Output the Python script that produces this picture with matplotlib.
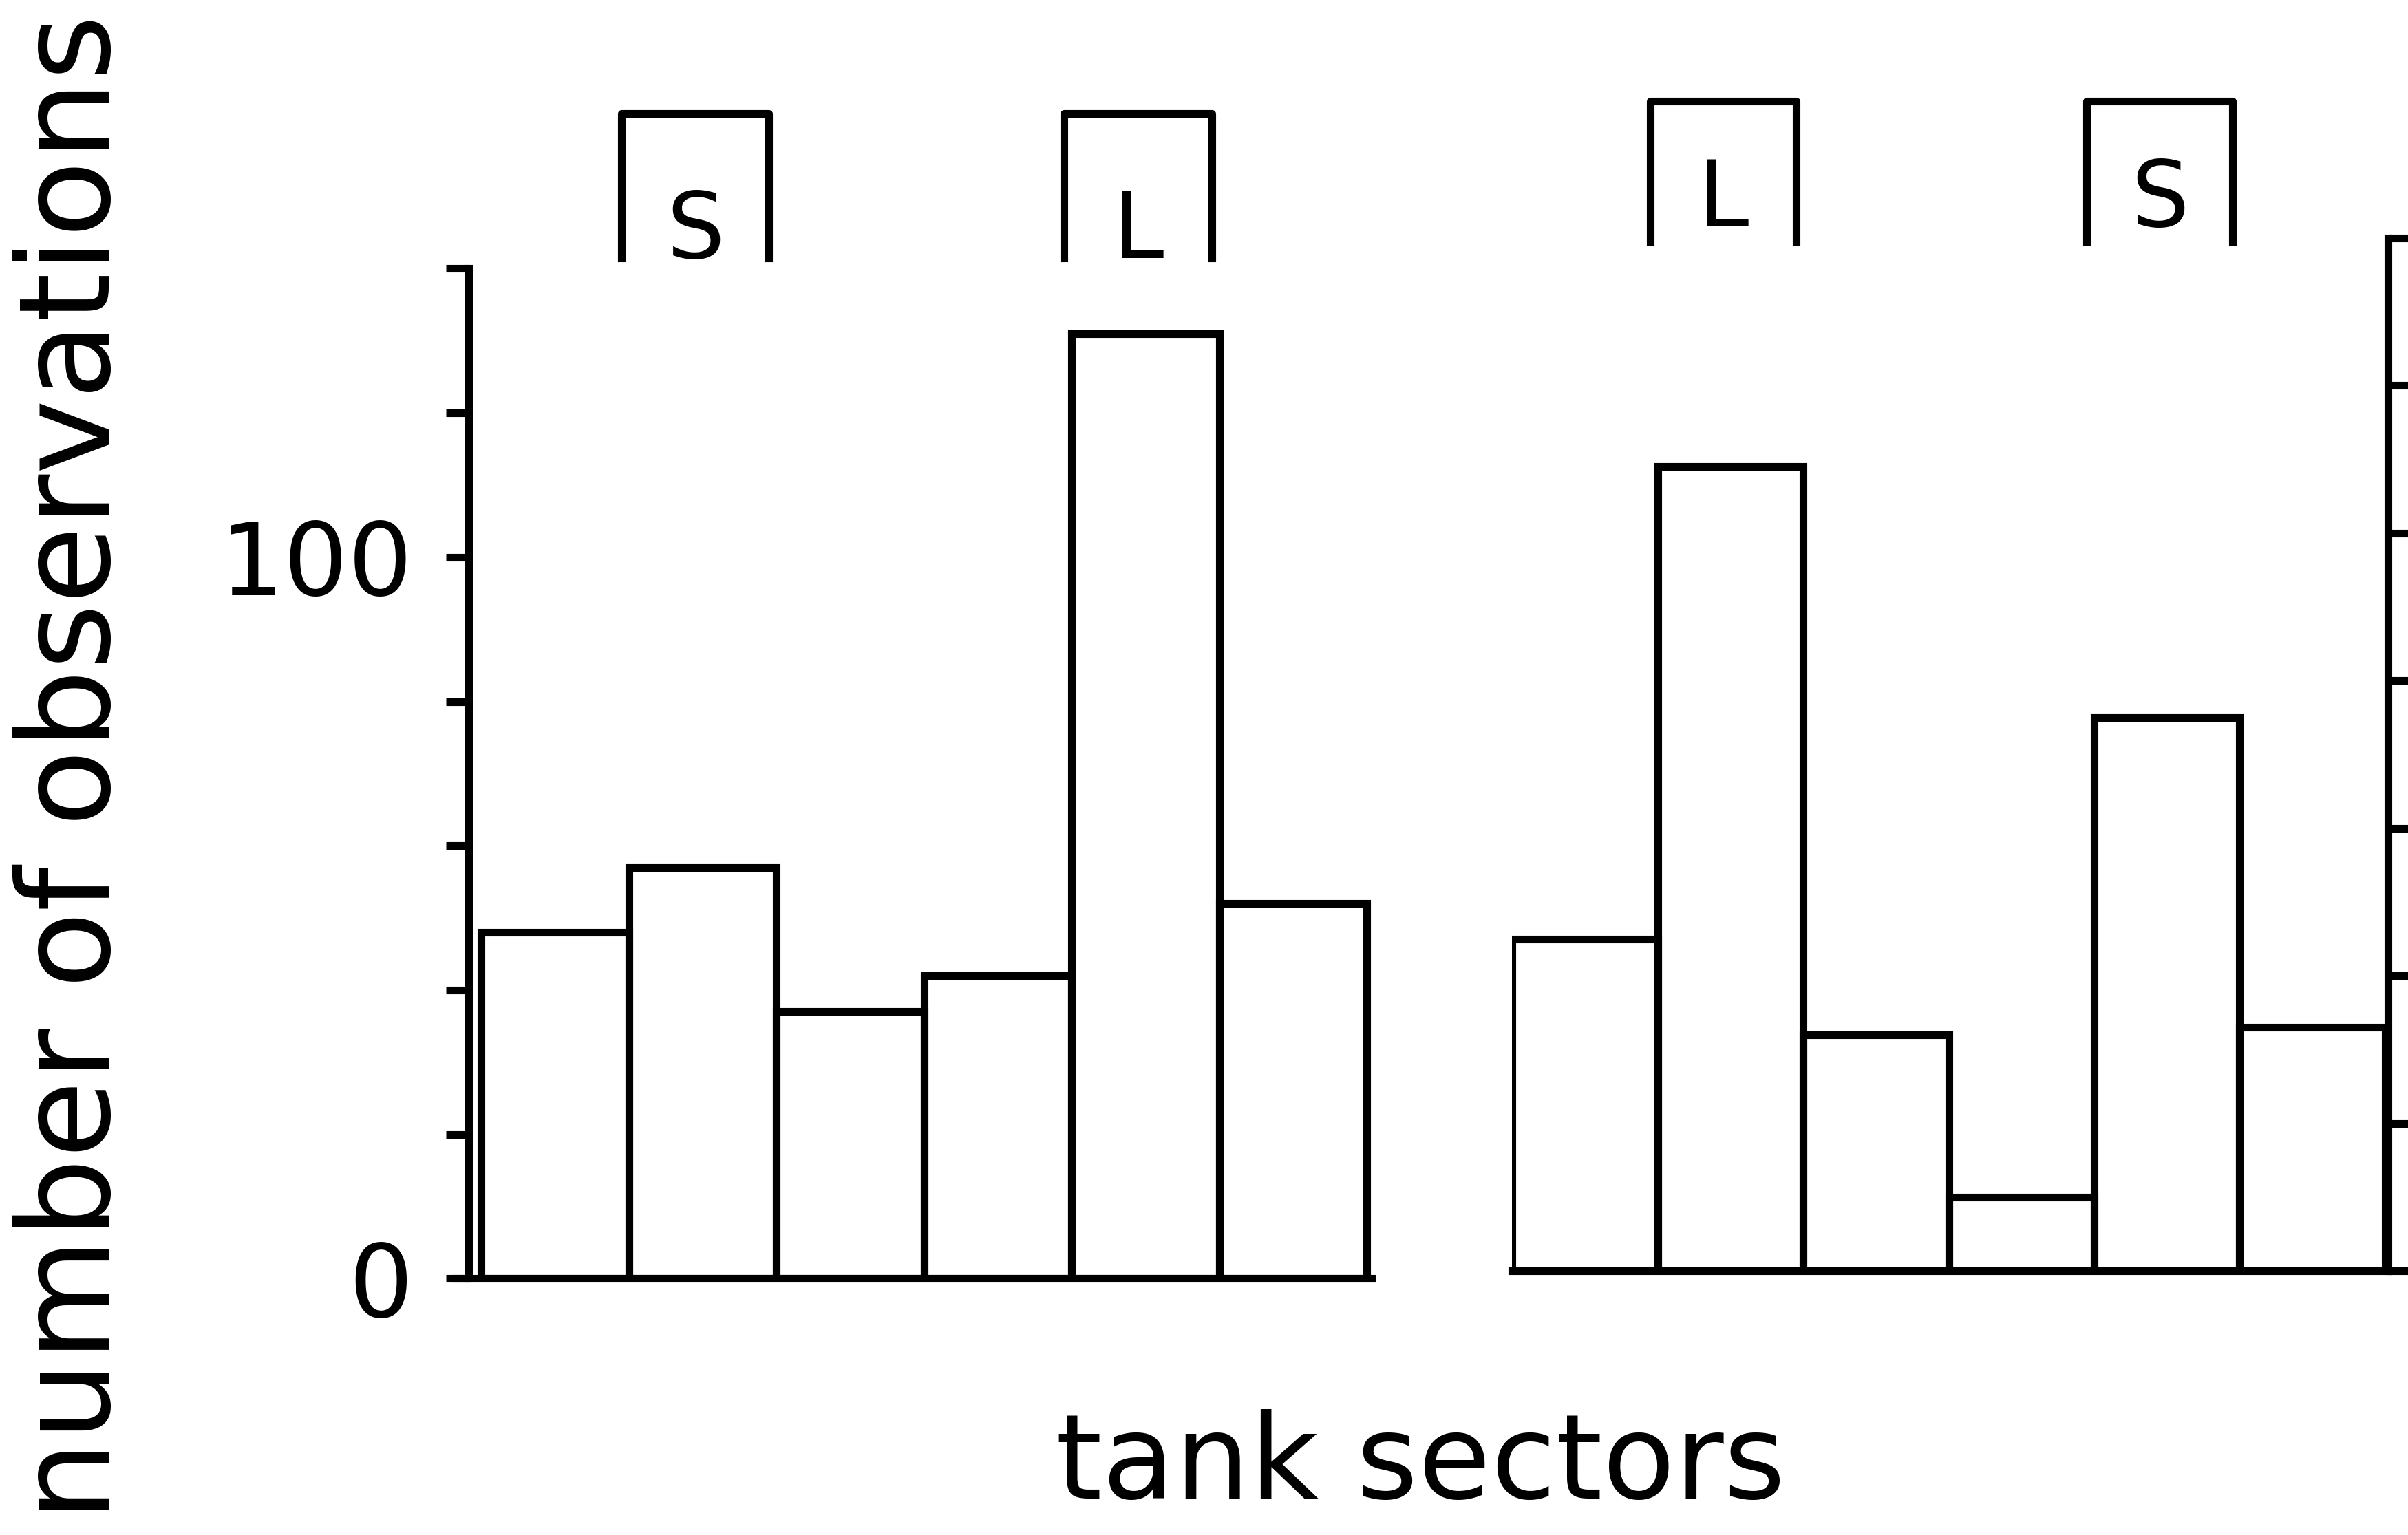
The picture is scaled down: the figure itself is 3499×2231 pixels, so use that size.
import matplotlib
matplotlib.use('Agg')
import matplotlib.pyplot as plt

# counts per tank sector
left_counts = [48, 57, 37, 42, 131, 52]
right_counts = [45, 109, 32, 10, 75, 33]

# bracket labels above sectors: (sector index, letter)
left_marks = [(1, 'S'), (4, 'L')]
right_marks = [(1, 'L'), (4, 'S')]

yticks = [0, 20, 40, 60, 80, 100, 120, 140]
yticklabels = ['0', '', '', '', '', '100', '', '']

lw = 8
fig = plt.figure(figsize=(34.99, 22.31), dpi=100)

ax1 = fig.add_axes([0.1894, 0.167, 0.5695 - 0.1894, 0.658])
ax2 = fig.add_axes([0.628, 0.172, 0.9917 - 0.628, 0.673])


def draw_panel(ax, counts, marks, side, br_bot, br_top):
    ax.bar(range(len(counts)), counts, width=1, align='edge', fill=False,
           edgecolor='black', linewidth=lw)
    ax.set_ylim(0, 140)
    for s in ax.spines.values():
        s.set_linewidth(lw)
    ax.spines['top'].set_visible(False)
    ax.set_xticks([])
    ax.set_yticks(yticks)
    ax.tick_params(axis='y', direction='out', length=24, width=lw)
    if side == 'left':
        ax.spines['right'].set_visible(False)
        ax.set_yticklabels(yticklabels)
        ax.tick_params(axis='y', pad=34, labelsize=106)
    else:
        ax.spines['left'].set_visible(False)
        ax.yaxis.tick_right()
        ax.set_yticklabels([])
    for i, letter in marks:
        ax.plot([i - 0.05, i - 0.05, i + 0.95, i + 0.95],
                [br_bot, br_top, br_top, br_bot], color='black', lw=lw,
                clip_on=False, solid_joinstyle='round')
        ax.text(i + 0.45, 145, letter, ha='center', va='center',
                fontsize=96, clip_on=False)


draw_panel(ax1, left_counts, left_marks, 'left', 141.5, 161.5)
ax1.set_xlim(-0.17, 6.03)
ax1.spines['left'].set_position(('data', -0.085))

draw_panel(ax2, right_counts, right_marks, 'right', 139.5, 158.5)
ax2.set_xlim(0, 6.02)

fig.text(0.031, 0.5, 'number of observations', rotation=90,
         ha='center', va='center', fontsize=132)
fig.text(0.59, 0.045, 'tank sectors', ha='center', va='center',
         fontsize=124)

fig.savefig('out.png', dpi=100)
